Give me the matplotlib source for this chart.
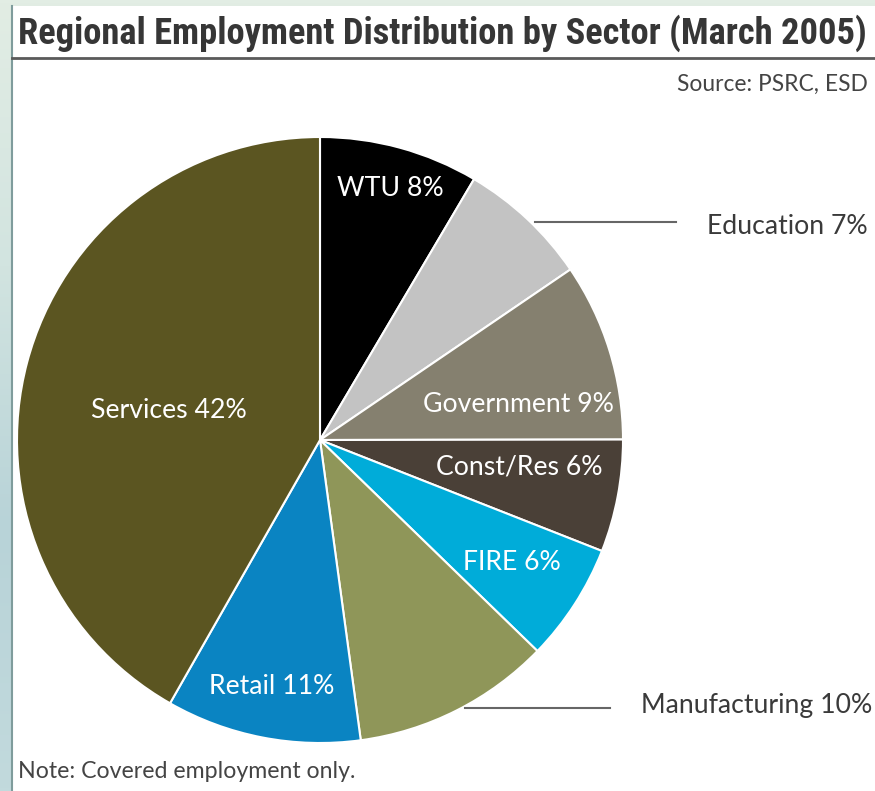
import matplotlib
matplotlib.use("Agg")
import matplotlib.pyplot as plt
import numpy as np
from matplotlib import font_manager
from matplotlib.colors import LinearSegmentedColormap

# ---- data ----
sectors = ["WTU", "Education", "Government", "Const/Res", "FIRE",
           "Manufacturing", "Retail", "Services"]
shares = [8.5, 7.0, 9.5, 6.0, 6.3, 10.6, 10.4, 41.8]   # slice sizes
labels = ["WTU 8%", "Education 7%", "Government 9%", "Const/Res 6%", "FIRE 6%",
          "Manufacturing 10%", "Retail 11%", "Services 42%"]
colors = ["#000000", "#c3c3c3", "#85806f", "#4a4037", "#00acd9",
          "#8f9659", "#0a84c2", "#5b5521"]
title = "Regional Employment Distribution by Sector (March 2005)"
source = "Source: PSRC, ESD"
note = "Note: Covered employment only."

W, H = 875, 791
avail = {f.name for f in font_manager.fontManager.ttflist}
def pick(cands):
    for c in cands:
        if c in avail:
            return c
    return "DejaVu Sans"
body_font = pick(["Lato", "Open Sans", "Noto Sans", "DejaVu Sans"])
title_font = pick(["Liberation Sans Narrow", "Roboto Condensed", "Roboto", "Lato"])

fig = plt.figure(figsize=(W / 100, H / 100), dpi=100)

# background axes in pixel coordinates
bg = fig.add_axes([0, 0, 1, 1])
bg.set_xlim(0, W)
bg.set_ylim(H, 0)
bg.axis("off")
bg.set_zorder(0)
grad = np.linspace(0, 1, 256)[:, None]
cmap = LinearSegmentedColormap.from_list("bgc", ["#e2ede4", "#d2e4e0", "#b8d3d8", "#c2dadd"])
bg.imshow(grad, cmap=cmap, extent=[0, W, H, 0], aspect="auto", zorder=0)
bg.add_patch(plt.Rectangle((12, 6), W - 12, H - 6, facecolor="white", edgecolor="none", zorder=1))
bg.plot([12, 12], [6, H], color="#7f9c9c", lw=1.5, zorder=2)
bg.plot([12, W], [58, 58], color="#5a5a5a", lw=2, zorder=2)

# title, fitted to width
t = bg.text(18, 33, title, fontsize=26, fontweight="bold", family=title_font,
            color="#363636", ha="left", va="center", zorder=3)
fig.canvas.draw()
r = fig.canvas.get_renderer()
wpx = t.get_window_extent(r).width
t.set_fontsize(26 * 850 / wpx)

bg.text(868, 84, source, fontsize=16.4, family=body_font, color="#444444",
        ha="right", va="center", zorder=3)
bg.text(18, 772, note, fontsize=16.7, family=body_font, color="#444444",
        ha="left", va="center", zorder=3)

# pie axes: center (320, 440), radius 303 px
cx, cy, rad = 320, 440, 303
ax = fig.add_axes([(cx - rad) / W, (H - cy - rad) / H, 2 * rad / W, 2 * rad / H])
ax.set_zorder(1)
ax.pie(shares, colors=colors, startangle=90, counterclock=False,
       wedgeprops=dict(edgecolor="white", linewidth=1.5))
ax.set_xlim(-1, 1)
ax.set_ylim(-1, 1)
ax.axis("off")

# overlay axes for labels and leader lines
ov = fig.add_axes([0, 0, 1, 1])
ov.set_xlim(0, W)
ov.set_ylim(H, 0)
ov.axis("off")
ov.set_zorder(2)

inside_pos = {"WTU 8%": (390, 188), "Services 42%": (169, 410), "Government 9%": (518, 405),
              "Const/Res 6%": (519, 467), "FIRE 6%": (512, 562), "Retail 11%": (272, 687)}
fs = 19.2
for lab, (x, y) in inside_pos.items():
    ov.text(x, y, lab, fontsize=fs, family=body_font, color="white",
            ha="center", va="center")

ov.text(707, 226, labels[1], fontsize=fs, family=body_font, color="#3a3a3a",
        ha="left", va="center")
ov.plot([535, 676], [222, 222], color="#666666", lw=1.5)
ov.text(641, 706, labels[5], fontsize=fs, family=body_font, color="#3a3a3a",
        ha="left", va="center")
ov.plot([465, 610], [708, 708], color="#666666", lw=1.5)

fig.savefig("out.png", dpi=100)
